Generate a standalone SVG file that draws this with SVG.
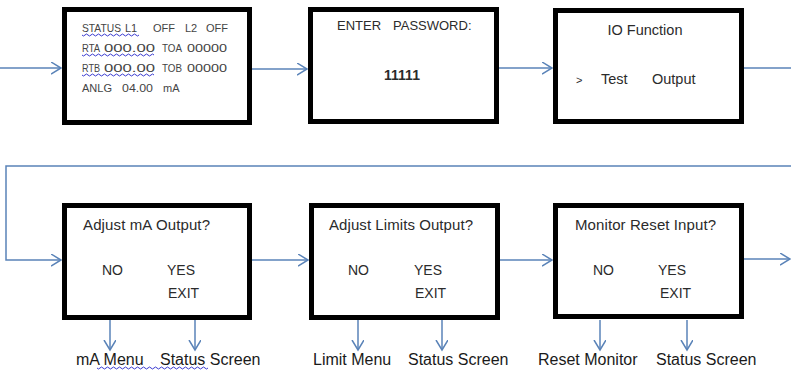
<svg xmlns="http://www.w3.org/2000/svg" width="791" height="370" viewBox="0 0 791 370">
<style>
.box{fill:#fff;stroke:#000;stroke-width:5}
.con{fill:none;stroke:#5a83b8;stroke-width:1.5}
.t{font-family:"Liberation Sans",Arial,sans-serif;fill:#2b2b2b}
.s1{font-size:11px;fill:#444}
.s2{font-size:13px}
.lab{font-size:16px;fill:#1a1a1a}
.wave{fill:none;stroke:#3a3ad0;stroke-width:1}
</style>
<defs>
<marker id="ah" markerUnits="userSpaceOnUse" markerWidth="12" markerHeight="14" refX="10" refY="6" orient="auto" viewBox="0 0 12 14">
<path d="M0,0 L10,6 L0,12" fill="none" stroke="#5a83b8" stroke-width="1.5"/>
</marker>
</defs>
<g id="connectors">
<path class="con" d="M0,68 H61" marker-end="url(#ah)"/>
<path class="con" d="M252,69 H307" marker-end="url(#ah)"/>
<path class="con" d="M499,68 H552" marker-end="url(#ah)"/>
<path class="con" d="M744,68 H791"/>
<path class="con" d="M791,166 H6 V260 H61" marker-end="url(#ah)"/>
<path class="con" d="M252,260 H308" marker-end="url(#ah)"/>
<path class="con" d="M500,260 H552" marker-end="url(#ah)"/>
<path class="con" d="M744,259 H790" marker-end="url(#ah)"/>
<path class="con" d="M110,320 V350" marker-end="url(#ah)"/>
<path class="con" d="M195,320 V350" marker-end="url(#ah)"/>
<path class="con" d="M358,320 V350" marker-end="url(#ah)"/>
<path class="con" d="M442,320 V350" marker-end="url(#ah)"/>
<path class="con" d="M600,320 V350" marker-end="url(#ah)"/>
<path class="con" d="M687,320 V350" marker-end="url(#ah)"/>
</g>
<g id="status">
<rect class="box" x="64.5" y="9.5" width="185" height="113"/>
<text class="t s1" y="32"><tspan x="82" textLength="39" lengthAdjust="spacingAndGlyphs">STATUS</tspan><tspan x="125">L1</tspan><tspan x="153">OFF</tspan><tspan x="185">L2</tspan><tspan x="206">OFF</tspan></text>
<text class="t s1" y="52"><tspan x="82" textLength="18" lengthAdjust="spacingAndGlyphs">RTA</tspan><tspan x="104" textLength="51" lengthAdjust="spacingAndGlyphs">000.00</tspan><tspan x="162" textLength="20" lengthAdjust="spacingAndGlyphs">TOA</tspan><tspan x="187" textLength="40" lengthAdjust="spacingAndGlyphs">00000</tspan></text>
<text class="t s1" y="72"><tspan x="82" textLength="18" lengthAdjust="spacingAndGlyphs">RTB</tspan><tspan x="104" textLength="51" lengthAdjust="spacingAndGlyphs">000.00</tspan><tspan x="162" textLength="20" lengthAdjust="spacingAndGlyphs">TOB</tspan><tspan x="187" textLength="40" lengthAdjust="spacingAndGlyphs">00000</tspan></text>
<text class="t s1" y="92"><tspan x="82">ANLG</tspan><tspan x="122" textLength="31" lengthAdjust="spacingAndGlyphs">04.00</tspan><tspan x="163">mA</tspan></text>
<path class="wave" d="M82,35 q1.5,2 3,0 t3,0 t3,0 t3,0 t3,0 t3,0 t3,0 t3,0 t3,0 t3,0 t3,0 t3,0 t3,0 t3,0 t3,0 t3,0 t3,0 t3,0 t3,0"/>
<path class="wave" d="M82,55 q1.5,2 3,0 t3,0 t3,0 t3,0 t3,0 t3,0 t3,0 t3,0 t3,0 t3,0 t3,0 t3,0 t3,0 t3,0 t3,0 t3,0 t3,0 t3,0 t3,0 t3,0 t3,0 t3,0 t3,0 t3,0"/>
<path class="wave" d="M82,75 q1.5,2 3,0 t3,0 t3,0 t3,0 t3,0 t3,0 t3,0 t3,0 t3,0 t3,0 t3,0 t3,0 t3,0 t3,0 t3,0 t3,0 t3,0 t3,0 t3,0 t3,0 t3,0 t3,0 t3,0 t3,0"/>
</g>
<g id="password">
<rect class="box" x="310.5" y="9.5" width="186" height="112"/>
<text class="t s2" y="30"><tspan x="337">ENTER</tspan><tspan x="393">PASSWORD:</tspan></text>
<text class="t" x="402" y="80" text-anchor="middle" font-size="14" font-weight="bold" fill="#333">11111</text>
</g>
<g id="io">
<rect class="box" x="555.5" y="10.5" width="186" height="111"/>
<text class="t" x="645" y="35" text-anchor="middle" font-size="14.5">IO Function</text>
<text class="t" y="84" font-size="14.5"><tspan x="576" font-size="11">&gt;</tspan><tspan x="601">Test</tspan><tspan x="652">Output</tspan></text>
</g>
<g id="adjust-ma">
<rect class="box" x="64.5" y="205.5" width="185" height="112"/>
<text class="t" x="83" y="230" font-size="15" textLength="127">Adjust mA Output?</text>
<text class="t" x="102" y="275" font-size="14">NO</text>
<text class="t" x="167" y="275" font-size="14">YES</text>
<text class="t" x="168" y="298" font-size="14">EXIT</text>
<text class="t lab" x="76" y="365">mA Menu</text>
<text class="t lab" x="160" y="365">Status Screen</text>
<path class="wave" d="M97,368 q1.5,2 3,0 t3,0 t3,0 t3,0 t3,0 t3,0 t3,0 t3,0 t3,0 t3,0 t3,0 t3,0 t3,0 t3,0 t3,0 t3,0 t3,0 t3,0 t3,0 t3,0 t3,0 t3,0 t3,0 t3,0 t3,0 t3,0 t3,0 t3,0 t3,0 t3,0 t3,0 t3,0 t3,0 t3,0 t3,0 t3,0 t3,0"/>
</g>
<g id="adjust-limits">
<rect class="box" x="311.5" y="205.5" width="186" height="112"/>
<text class="t" x="329" y="230" font-size="15" textLength="144">Adjust Limits Output?</text>
<text class="t" x="348" y="275" font-size="14">NO</text>
<text class="t" x="414" y="275" font-size="14">YES</text>
<text class="t" x="415" y="298" font-size="14">EXIT</text>
<text class="t lab" x="313" y="365">Limit Menu</text>
<text class="t lab" x="408" y="365">Status Screen</text>
</g>
<g id="monitor-reset">
<rect class="box" x="555.5" y="205.5" width="186" height="111"/>
<text class="t" x="575" y="230" font-size="15" textLength="141">Monitor Reset Input?</text>
<text class="t" x="593" y="275" font-size="14">NO</text>
<text class="t" x="658" y="275" font-size="14">YES</text>
<text class="t" x="660" y="298" font-size="14">EXIT</text>
<text class="t lab" x="538" y="365">Reset Monitor</text>
<text class="t lab" x="656" y="365">Status Screen</text>
</g>
</svg>
